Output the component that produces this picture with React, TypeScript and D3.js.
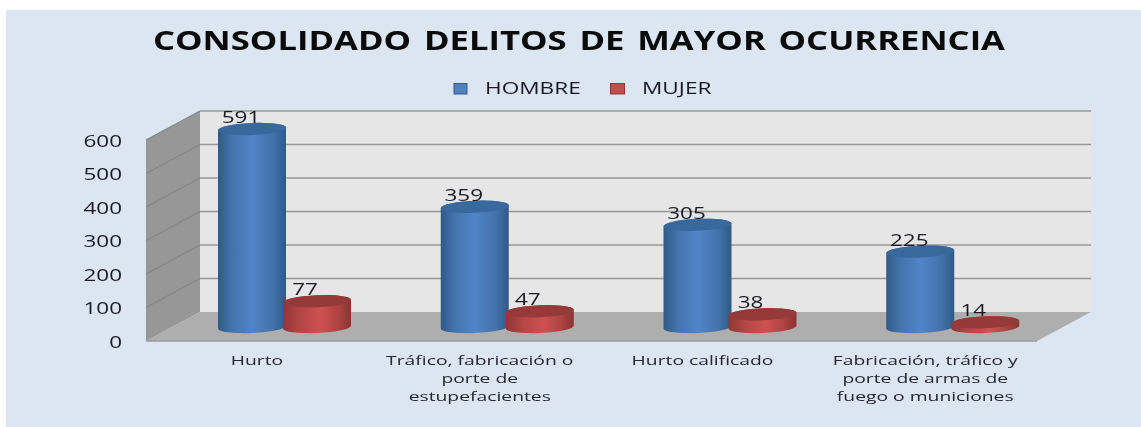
import React from "react";
import * as d3 from "d3";

const categories = ["Hurto", "Tráfico, fabricación o porte de estupefacientes", "Hurto calificado", "Fabricación, tráfico y porte de armas de fuego o municiones"];
const categoryLines = [["Hurto"], ["Tráfico, fabricación o", "porte de", "estupefacientes"], ["Hurto calificado"], ["Fabricación, tráfico y", "porte de armas de", "fuego o municiones"]];
const hombre = [591, 359, 305, 225];
const mujer = [77, 47, 38, 14];
const seriesNames = ["HOMBRE", "MUJER"];
const yTicks = [0, 100, 200, 300, 400, 500, 600];
const titleText = "CONSOLIDADO DELITOS DE MAYOR OCURRENCIA";

const W = 1141, H = 427;
const frontL = 146, frontB = 341, depthX = 54, depthY = -29, plotW = 891, plotH = 201;
const y = d3.scaleLinear().domain([0, 600]).range([plotH, 0]);
const x0 = d3.scaleBand<string>().domain(categories).range([frontL, frontL + plotW]);
const x1 = d3.scaleLinear().domain([0, 1]).range([106, 171]);
const font = "'Open Sans', 'DejaVu Sans', sans-serif";
const TILT = -2.5;

function Cyl({ cx, base, h, r, ry, id, top }: any) {
  const t = base - h;
  const dy = r * Math.sin((TILT * Math.PI) / 180);
  const d = `M${cx - r},${t - dy} L${cx - r},${base - dy} A${r},${ry} ${TILT} 0 0 ${cx + r},${base + dy} L${cx + r},${t + dy} A${r},${ry} ${TILT} 0 0 ${cx - r},${t - dy} Z`;
  return <g>
    <path d={d} fill={`url(#${id})`} />
    <ellipse cx={cx} cy={t} rx={r} ry={ry} fill={top} transform={`rotate(${TILT} ${cx} ${t})`} />
  </g>;
}

// The reference's lettering is stretched sideways, so text carries a horizontal scale.
function T({ x, y: yy, sx, anchor = "middle", size, fill = "#1a1a24", weight = 500, children }: any) {
  return <text transform={`translate(${x},${yy}) scale(${sx},1)`} textAnchor={anchor} fontFamily={font} fontSize={size} fontWeight={weight} fill={fill}>{children}</text>;
}

export default function App() {
  const backL = frontL + depthX, backB = frontB + depthY;
  return (
    <svg width={W} height={H} style={{ position: "absolute", left: 0, top: 0, filter: "blur(0.5px)" }}>
      <defs>
        <linearGradient id="gb" x1="0" x2="1" y1="0" y2="0">
          <stop offset="0" stopColor="#2f5a87" /><stop offset="0.2" stopColor="#4473ab" />
          <stop offset="0.5" stopColor="#5185c8" /><stop offset="0.8" stopColor="#4473ab" />
          <stop offset="1" stopColor="#2f5a87" />
        </linearGradient>
        <linearGradient id="gr" x1="0" x2="1" y1="0" y2="0">
          <stop offset="0" stopColor="#8f3735" /><stop offset="0.25" stopColor="#b34643" />
          <stop offset="0.55" stopColor="#cc5250" /><stop offset="0.8" stopColor="#b04442" />
          <stop offset="1" stopColor="#893432" />
        </linearGradient>
      </defs>
      <rect x={6} y={10} width={W - 6} height={H - 10} fill="#dce6f2" />
      <text x={579} y={50} textAnchor="middle" fontFamily={font} fontWeight={700} fontSize={27.5} wordSpacing={3} fill="#0b0b0b" textLength={852} lengthAdjust="spacingAndGlyphs">{titleText}</text>

      {seriesNames.map((s, i) => {
        const lx = [454, 610.5][i], tx = [485, 642][i];
        return <g key={s}>
          <rect x={lx} y={83.5} width={[13, 14][i]} height={10.5} fill={i ? "#c0504d" : "#4f81bd"} stroke={i ? "#8c3836" : "#385d8a"} />
          <T x={tx} y={94} sx={1.46} anchor="start" size={15.5}>{s}</T>
        </g>;
      })}

      <rect x={backL} y={backB - plotH} width={plotW} height={plotH} fill="#e6e6e6" />
      <polygon points={`${frontL},${frontB} ${backL},${backB} ${backL},${backB - plotH} ${frontL},${frontB - plotH}`} fill="#979797" />
      <polygon points={`${frontL},${frontB} ${backL},${backB} ${backL + plotW},${backB} ${frontL + plotW},${frontB}`} fill="#aeaeae" />
      {yTicks.map(t => {
        const yy = frontB - plotH + y(t);
        return <g key={t}>
          {t > 0 && <>
            <line x1={frontL} y1={yy} x2={backL} y2={yy + depthY} stroke="#868686" strokeWidth={1.2} />
            <line x1={backL} y1={yy + depthY} x2={backL + plotW} y2={yy + depthY} stroke="#989898" strokeWidth={1.6} />
          </>}
          <T x={122} y={yy + 6.5} sx={1.45} anchor="end" size={15.5}>{t}</T>
        </g>;
      })}
      <line x1={frontL} x2={frontL + plotW} y1={frontB} y2={frontB} stroke="#9a9a9a" strokeWidth={1.5} />

      {categories.map((c, i) => {
        const b = x0(c)!;
        const bx = b + x1(0), rx = b + x1(1), base = frontB - 14;
        return <g key={c}>
          <Cyl cx={bx} base={base} h={plotH - y(hombre[i])} r={34} ry={6} id="gb" top="#38689c" />
          <Cyl cx={rx} base={base} h={plotH - y(mujer[i])} r={34} ry={6} id="gr" top="#953a38" />
          <T x={bx - 11} y={base - (plotH - y(hombre[i])) - 6} sx={1.45} size={15.5}>{hombre[i]}</T>
          <T x={rx - 12} y={base - (plotH - y(mujer[i])) - 6.5} sx={1.45} size={15.5}>{mujer[i]}</T>
          {categoryLines[i].map((l, k) => (
            <T key={k} x={b + 111} y={365 + k * 17.8} sx={1.43} size={13.5} fill="#26262e">{l}</T>
          ))}
        </g>;
      })}
    </svg>
  );
}
